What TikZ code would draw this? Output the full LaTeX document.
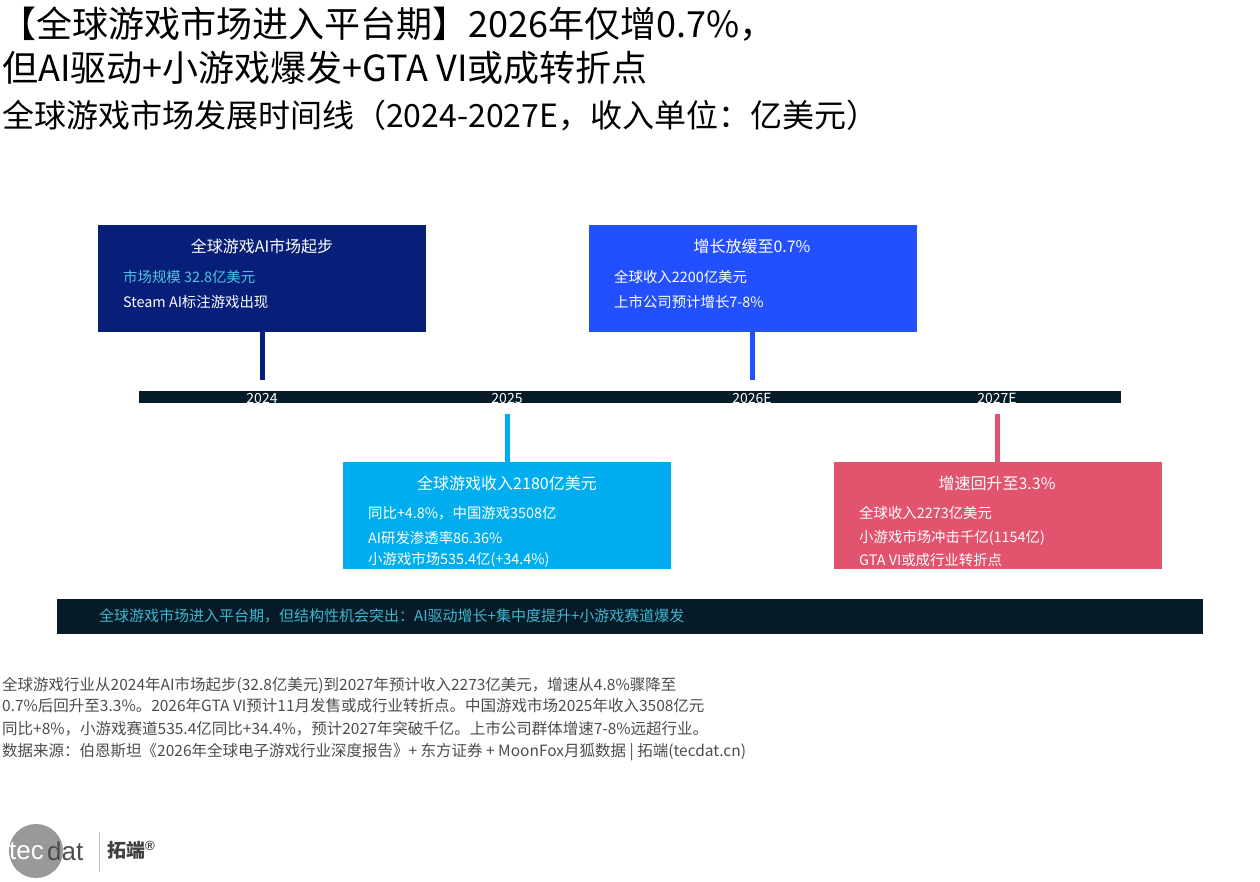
\documentclass[tikz,border=0pt]{standalone}
\usepackage{fontspec}
\setmainfont{Noto Sans CJK SC}
\newfontfamily\lat{Liberation Sans}
\begin{document}
\begin{tikzpicture}[x=1pt,y=-1pt,
 box/.style={anchor=north west,minimum width=328pt,minimum height=107pt,inner sep=0pt},
 conn/.style={line width=5pt},
 ttl/.style={text=white,font=\fontsize{16}{18}\selectfont},
 bl/.style={anchor=west,text=white,font=\fontsize{14.4}{16}\selectfont,inner sep=0pt},
 yr/.style={text=white,font=\fontsize{14}{14}\selectfont,inner sep=0pt,anchor=base},
 ft/.style={anchor=west,text=black!70,font=\fontsize{15.5}{17}\selectfont,inner sep=0pt}]
\definecolor{cA}{HTML}{081F7A}\definecolor{cB}{HTML}{2350FF}
\definecolor{cC}{HTML}{00AEEF}\definecolor{cD}{HTML}{E2536E}
\definecolor{bar}{HTML}{061A28}\definecolor{cy}{HTML}{4FC3E0}
\useasboundingbox (0,0) rectangle (1260,882);
\node[anchor=west,inner sep=0pt,font=\fontsize{36}{38}\selectfont] (t1) at (0,24) {【全球游戏市场进入平台期】2026年仅增0.7\%，};
\node[anchor=west,inner sep=0pt,font=\fontsize{36}{38}\selectfont] (t2) at (2,68) {但AI驱动+小游戏爆发+GTA VI或成转折点};
\node[anchor=west,inner sep=0pt,font=\fontsize{32}{34}\selectfont] (t3) at (2,116) {全球游戏市场发展时间线（2024-2027E，收入单位：亿美元）};
% bar
\fill[bar] (139,391) rectangle (1121,403);
\coordinate (y1) at (262,391); \coordinate (y2) at (507,403);
\coordinate (y3) at (752,391); \coordinate (y4) at (997,403);
\node[yr] at (262,403) {2024}; \node[yr] at (507,403) {2025};
\node[yr] at (752,403) {2026E}; \node[yr] at (997,403) {2027E};
% boxes
\node[box,fill=cA] (b1) at (98,225) {};
\node[box,fill=cB] (b2) at (589,225) {};
\node[box,fill=cC] (b3) at (343,462) {};
\node[box,fill=cD] (b4) at (834,462) {};
\draw[conn,cA] (b1.south -| y1) -- (262,380);
\draw[conn,cB] (b2.south -| y3) -- (752,380);
\draw[conn,cC] (b3.north -| y2) -- (507,414);
\draw[conn,cD] (b4.north -| y4) -- (997,414);
\node[ttl] at (262,246) {全球游戏AI市场起步};
\node[bl,text=cy] at (123,277) {市场规模 32.8亿美元};
\node[bl] at (123,302) {Steam AI标注游戏出现};
\node[ttl] at (752,246) {增长放缓至0.7\%};
\node[bl] at (614,277) {全球收入2200亿美元};
\node[bl] at (614,302) {上市公司预计增长7-8\%};
\node[ttl] at (507,483) {全球游戏收入2180亿美元};
\node[bl] at (368,513) {同比+4.8\%，中国游戏3508亿};
\node[bl] at (368,538) {AI研发渗透率86.36\%};
\node[bl] at (368,560) {小游戏市场535.4亿(+34.4\%)};
\node[ttl] at (997,483) {增速回升至3.3\%};
\node[bl] at (859,513) {全球收入2273亿美元};
\node[bl] at (859,538) {小游戏市场冲击千亿(1154亿)};
\node[bl] at (859,560) {GTA VI或成行业转折点};
% banner
\fill[bar] (57,599) rectangle (1203,634);
\node[bl,text=cy!80!teal,font=\fontsize{15}{16}\selectfont] (bn) at (99,616) {全球游戏市场进入平台期，但结构性机会突出：AI驱动增长+集中度提升+小游戏赛道爆发};
% footer
\node[ft] at (2,685) {全球游戏行业从2024年AI市场起步(32.8亿美元)到2027年预计收入2273亿美元，增速从4.8\%骤降至};
\node[ft] at (2,706) {0.7\%后回升至3.3\%。2026年GTA VI预计11月发售或成行业转折点。中国游戏市场2025年收入3508亿元};
\node[ft] at (2,729) {同比+8\%，小游戏赛道535.4亿同比+34.4\%，预计2027年突破千亿。上市公司群体增速7-8\%远超行业。};
\node[ft] at (2,752) {数据来源：伯恩斯坦《2026年全球电子游戏行业深度报告》+ 东方证券 + MoonFox月狐数据 | 拓端(tecdat.cn)};
% logo
\fill[black!40] (36,851) circle (27);
\node[anchor=west,inner sep=0pt,text=white,font=\lat\fontsize{26}{26}\selectfont] at (9,851) {tec};
\node[anchor=west,inner sep=0pt,text=black!70,font=\lat\fontsize{26}{26}\selectfont] at (47,851) {dat};
\draw[black!25,line width=1pt] (99,832) -- (99,872);
\node[anchor=west,inner sep=0pt,text=black!75,font=\bfseries\fontsize{19}{20}\selectfont] at (107,850) {拓端\textsuperscript{\lat ®}};
\end{tikzpicture}
\end{document}
